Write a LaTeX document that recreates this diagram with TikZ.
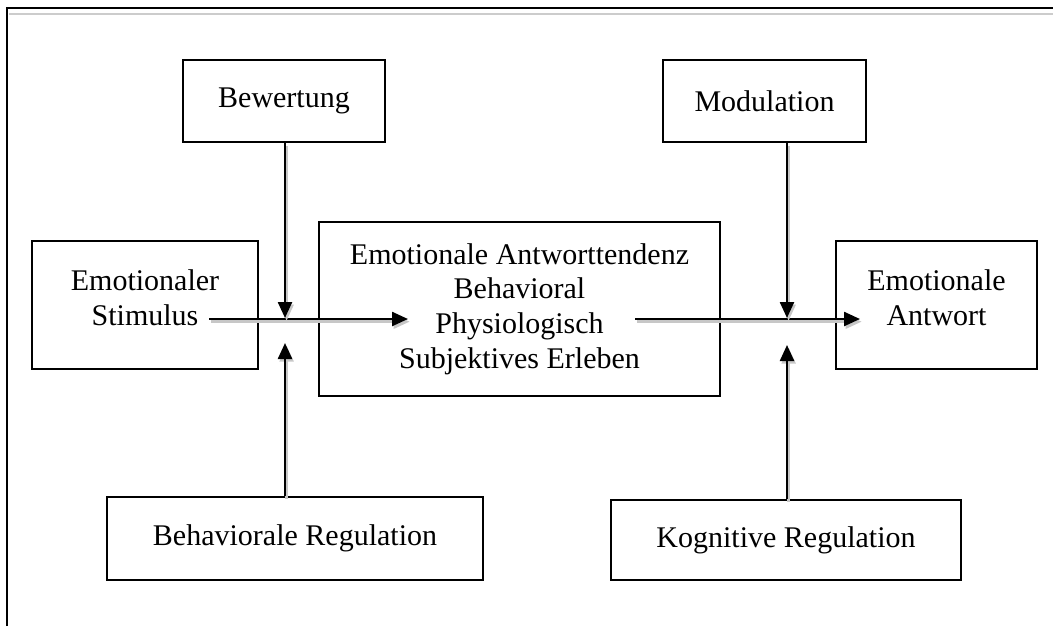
\documentclass[tikz,border=0pt]{standalone}
\usepackage{fontspec}
\setmainfont{Liberation Serif}
\usetikzlibrary{arrows.meta}

\begin{document}
\begin{tikzpicture}[x=0.75pt, y=-0.75pt,
    boxfont/.style={font=\fontsize{22.5}{26}\selectfont, align=center},
    box/.style={draw, rectangle, line width=1.5pt, inner sep=0pt, boxfont},
    flow/.style={line width=1.8pt, -{Triangle[length=12pt, width=10.5pt]},
        preaction={draw=black!22, line width=1.8pt, -{Triangle[length=12pt, width=10.5pt]},
        transform canvas={shift={(1.2pt,-2pt)}}}}]
    \useasboundingbox (0,0) rectangle (1053,626);

    % Frame
    \draw[black!20, line width=1.6pt] (9,14) -- (1053,14);
    \draw[line width=2.2pt] (7,626) -- (7,8) -- (1053,8);

    % Top boxes
    \node[box, minimum width=202*0.75pt, minimum height=82*0.75pt] (bew) at (284,101) {Bewertung};
    \node[box, minimum width=203*0.75pt, minimum height=82*0.75pt] (mod) at (764.5,101) {Modulation};

    % Middle row
    \node[box, minimum width=226*0.75pt, minimum height=128*0.75pt,
        label={[boxfont, yshift=5.5pt]center:Emotionaler\\Stimulus}] (stim) at (145,305) {};
    \node[box, minimum width=401*0.75pt, minimum height=174*0.75pt] (tend) at (519.5,309)
        {Emotionale Antworttendenz\\Behavioral\\Physiologisch\\Subjektives Erleben};
    \node[box, minimum width=201*0.75pt, minimum height=128*0.75pt,
        label={[boxfont, yshift=5.5pt]center:Emotionale\\Antwort}] (antw) at (936.5,305) {};

    % Bottom boxes
    \node[box, minimum width=376*0.75pt, minimum height=83*0.75pt] (breg) at (295,538.5) {Behaviorale Regulation};
    \node[box, minimum width=350*0.75pt, minimum height=80*0.75pt] (kreg) at (786,540) {Kognitive Regulation};

    % Junction points
    \coordinate (s1) at (209,319);
    \coordinate (s2) at (408,319);
    \coordinate (r1) at (635,319);
    \coordinate (r2) at (860,319);
    \coordinate (j1) at (285,318);
    \coordinate (j2) at (285,343);
    \coordinate (j3) at (787,318);
    \coordinate (j4) at (787,345);

    % Horizontal arrows
    \draw[flow] (s1) -- (s2);
    \draw[flow] (r1) -- (r2);

    % Vertical arrows
    \draw[flow] (j1 |- bew.south) -- (j1);
    \draw[flow] (j2 |- breg.north) -- (j2);
    \draw[flow] (j3 |- mod.south) -- (j3);
    \draw[flow] (j4 |- kreg.north) -- (j4);

\end{tikzpicture}
\end{document}
